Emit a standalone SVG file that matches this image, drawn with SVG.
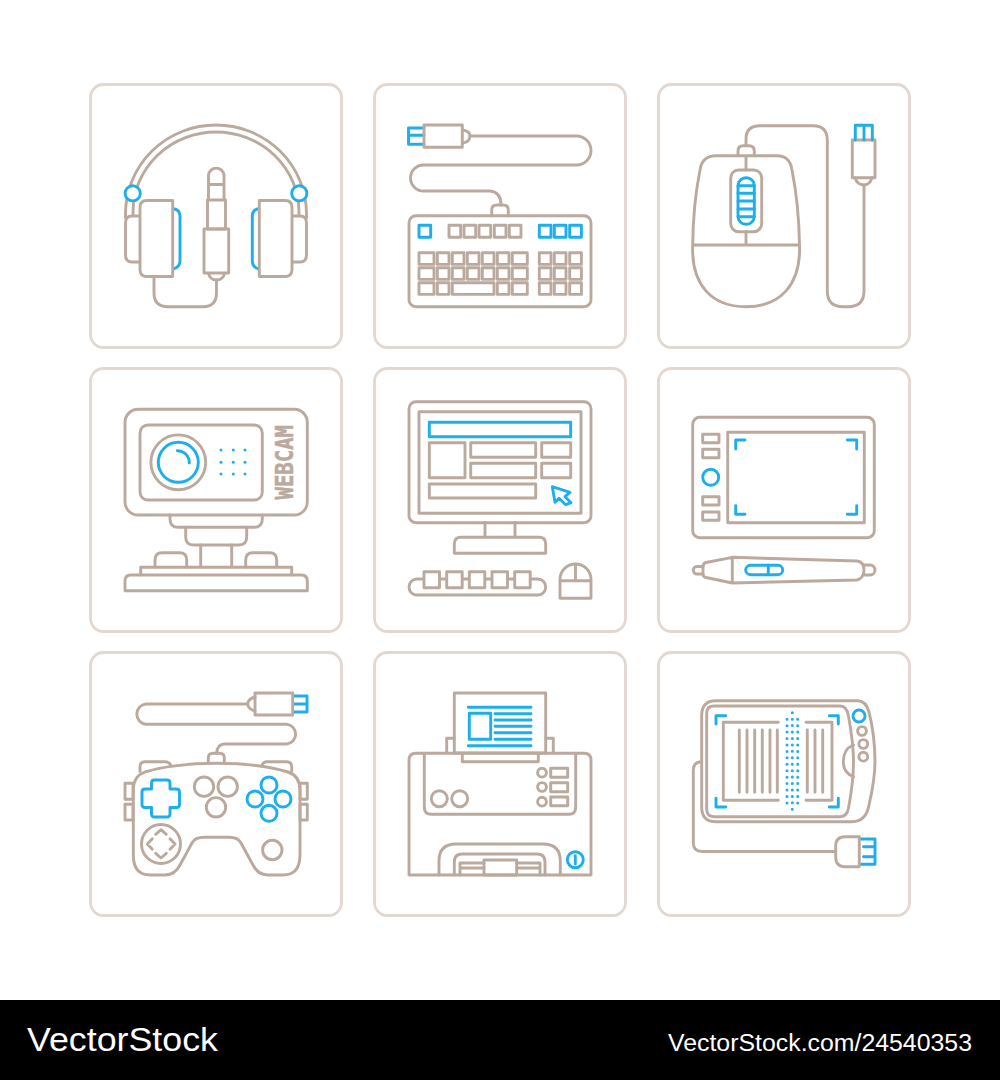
<svg xmlns="http://www.w3.org/2000/svg" width="1000" height="1080" viewBox="0 0 1000 1080">
<style>
.p{fill:#fff;stroke:#e3d8d0;stroke-width:2.8}
.g{fill:none;stroke:#bba99e;stroke-width:2.9;stroke-linejoin:round;stroke-linecap:round}
.b{fill:none;stroke:#1daeec;stroke-width:2.9;stroke-linejoin:round;stroke-linecap:round}
.f{fill:#fff}
.d{fill:none;stroke:#1daeec;stroke-width:3;stroke-linecap:round;stroke-dasharray:0 6.44}
.w{font-family:"Liberation Sans",Arial,sans-serif;fill:#fff}
</style>
<rect width="1000" height="1080" fill="#fff"/>
<g id="panels">
<rect class="p" x="90.5" y="84.5" width="251" height="263" rx="13"/>
<rect class="p" x="374.5" y="84.5" width="251" height="263" rx="13"/>
<rect class="p" x="658.5" y="84.5" width="251" height="263" rx="13"/>
<rect class="p" x="90.5" y="368.5" width="251" height="263" rx="13"/>
<rect class="p" x="374.5" y="368.5" width="251" height="263" rx="13"/>
<rect class="p" x="658.5" y="368.5" width="251" height="263" rx="13"/>
<rect class="p" x="90.5" y="652.5" width="251" height="263" rx="13"/>
<rect class="p" x="374.5" y="652.5" width="251" height="263" rx="13"/>
<rect class="p" x="658.5" y="652.5" width="251" height="263" rx="13"/>
</g>
<g id="headphones">
<path class="g" d="M125.5,218 V214 A90.5,89 0 0 1 306.5,214 V218"/>
<path class="g" d="M133,216 V212 A83,80 0 0 1 299,212 V216"/>
<path class="g f" d="M140,216 H132 Q125.5,216 125.5,223 V255 Q125.5,262 132,262 H140"/>
<path class="g f" d="M292,216 H300 Q306.5,216 306.5,223 V255 Q306.5,262 300,262 H292"/>
<path class="b" d="M172.7,208.5 Q180,209.5 180,216 V261 Q180,267.500 172.700,269"/>
<path class="b" d="M259.300,208.500 Q252.300,209.500 252.300,216 V261 Q252.300,267.500 259.300,269"/>
<path class="g f" d="M172.700,200.500 H147 Q140,200.500 140,207.500 V269.500 Q140,276.500 147,276.500 H172.700 Z"/>
<path class="g f" d="M259.300,200.500 H285 Q292,200.500 292,207.500 V269.500 Q292,276.500 285,276.500 H259.300 Z"/>
<circle class="b f" cx="132.700" cy="193.300" r="7.600"/>
<circle class="b f" cx="299.300" cy="193.300" r="7.600"/>
<path class="g" d="M208.500,200 V175 A7.800,7.800 0 0 1 224,175 V200 M208.500,184.500 H224"/>
<rect class="g" x="207.500" y="200" width="18" height="29"/>
<rect class="g" x="204" y="229" width="24.700" height="44"/>
<path class="g" d="M208.500,273.500 Q210,280 216.500,280 Q223,280 224.500,273.500"/>
<path class="g" d="M216.500,280 V293 Q216.500,306.700 203,306.700 H168 Q154,306.700 154,293 V277"/>
</g>
<g id="keyboard">
<path class="g" d="M470,136 H576.500 A14.500,14.500 0 0 1 576.500,165 H423.500 A13,13 0 0 0 423.500,191 H490 Q501,192 501,205"/>
<path class="b" d="M424,128 H408.500 V144.200 H424 M408.500,135.200 H424"/>
<path class="g" d="M462.300,130 Q470,131 470,136 Q470,142 462.300,143"/>
<rect class="g" x="424" y="125" width="38.300" height="22.300"/>
<path class="g" d="M491.700,215.700 V210 Q491.700,205 497,205 H503 Q508.300,205 508.300,210 V215.700"/>
<rect class="g" x="409" y="215.700" width="182" height="91" rx="7"/>
<g class="b"><rect x="419" y="225.300" width="11.700" height="12"/><rect x="539.300" y="225.300" width="11.700" height="12"/><rect x="554.300" y="225.300" width="11.700" height="12"/><rect x="569.700" y="225.300" width="11.700" height="12"/></g>
<g class="g">
<rect x="449" y="225.300" width="11.700" height="12"/><rect x="464" y="225.300" width="11.700" height="12"/><rect x="479" y="225.300" width="11.700" height="12"/><rect x="494.300" y="225.300" width="11.700" height="12"/><rect x="509.300" y="225.300" width="11.700" height="12"/>
<rect x="419" y="252.700" width="15" height="11.700"/><rect x="437.300" y="252.700" width="11.700" height="11.700"/><rect x="452.300" y="252.700" width="11.700" height="11.700"/><rect x="467.300" y="252.700" width="11.700" height="11.700"/><rect x="482.300" y="252.700" width="11.700" height="11.700"/><rect x="497.300" y="252.700" width="11.700" height="11.700"/><rect x="512.300" y="252.700" width="15" height="11.700"/>
<rect x="419" y="267.700" width="15" height="11.700"/><rect x="437.300" y="267.700" width="11.700" height="11.700"/><rect x="452.300" y="267.700" width="11.700" height="11.700"/><rect x="467.300" y="267.700" width="11.700" height="11.700"/><rect x="482.300" y="267.700" width="11.700" height="11.700"/><rect x="497.300" y="267.700" width="11.700" height="11.700"/><rect x="512.300" y="267.700" width="15" height="11.700"/>
<rect x="419" y="282.700" width="15" height="11.700"/><rect x="437.300" y="282.700" width="11.700" height="11.700"/><rect x="452.300" y="282.700" width="41.700" height="11.700"/><rect x="497.300" y="282.700" width="11.700" height="11.700"/><rect x="512.300" y="282.700" width="15" height="11.700"/>
<rect x="539.300" y="252.700" width="11.700" height="11.700"/><rect x="554.300" y="252.700" width="11.700" height="11.700"/><rect x="569.700" y="252.700" width="11.700" height="11.700"/>
<rect x="539.300" y="267.700" width="11.700" height="11.700"/><rect x="554.300" y="267.700" width="11.700" height="11.700"/><rect x="569.700" y="267.700" width="11.700" height="11.700"/>
<rect x="539.300" y="282.700" width="11.700" height="11.700"/><rect x="554.300" y="282.700" width="11.700" height="11.700"/><rect x="569.700" y="282.700" width="11.700" height="11.700"/>
</g>
</g>
<g id="mouse">
<path class="g" d="M746,145.700 V139 Q746,125.700 760,125.700 H813 Q827.300,125.700 827.300,140 V291 Q827.300,306.700 843,306.700 H848 Q864,306.700 864,291 V185"/>
<path class="g" d="M738,155.700 V151 Q738,145.700 743,145.700 H749 Q754.300,145.700 754.300,151 V155.700"/>
<path class="g" d="M716,155.700 H777 Q790,155.700 792,170 C796,190 799,215 799.500,245 C801,285 780,306.700 746,306.700 C712,306.700 691,285 692.700,245 C693,215 696,190 700,170 Q702,155.700 716,155.700 Z M692.700,245 H799.500 M746,155.700 V170 M746,231.700 V245"/>
<rect class="g" x="730.700" y="170" width="31" height="61.700" rx="8"/>
<rect class="b" x="738" y="177.700" width="16.300" height="46.600" rx="8"/>
<path class="b" d="M738,185.700 H754.300 M738,193.300 H754.300 M738,201 H754.300 M738,209 H754.300 M738,216.700 H754.300"/>
<path class="g" d="M855,177.700 Q857,185 864,185 Q870,185 872,177.700"/>
<rect class="g" x="852.300" y="140" width="22.700" height="37.700"/>
<path class="b" d="M855.300,140 V125.300 H872.300 V140 M864,125.300 V140"/>
</g>
<g id="webcam">
<path class="g" d="M170,515 V519 Q170,527.300 178,527.300 H254 Q262.300,527.300 262.300,519 V515"/>
<path class="g" d="M185.700,527.300 V537 Q185.700,545 193.700,545 H238.700 Q246.700,545 246.700,537 V527.300"/>
<path class="g" d="M200.700,545 V567 M231.700,545 V567"/>
<path class="g" d="M155,567.300 V560 Q155,552.700 162,552.700 H179.700 Q186.700,552.700 186.700,560 V567.300"/>
<path class="g" d="M245.700,567.300 V560 Q245.700,552.700 252.700,552.700 H269.700 Q276.700,552.700 276.700,560 V567.300"/>
<rect class="g" x="125" y="409.300" width="182.300" height="105.700" rx="13"/>
<rect class="g" x="140" y="425" width="122.300" height="75" rx="8"/>
<circle class="g" cx="178.300" cy="462.300" r="27.400"/>
<circle class="b" cx="178.300" cy="462.300" r="20"/>
<path class="b" d="M177.300,450.700 A12,12 0 0 1 189.300,463"/>
<g fill="#1daeec"><circle cx="221" cy="450" r="1.500"/><circle cx="233.300" cy="450" r="1.500"/><circle cx="245" cy="450" r="1.500"/><circle cx="221" cy="462.300" r="1.500"/><circle cx="233.300" cy="462.300" r="1.500"/><circle cx="245" cy="462.300" r="1.500"/><circle cx="221" cy="474" r="1.500"/><circle cx="233.300" cy="474" r="1.500"/><circle cx="245" cy="474" r="1.500"/></g>
<text transform="translate(293.300,499.500) rotate(-90)" x="0" y="0" font-family="'DejaVu Sans Mono',monospace" font-weight="700" font-size="25" fill="#bba99e" stroke="#bba99e" stroke-width="0.5" textLength="74.500" lengthAdjust="spacingAndGlyphs">WEBCAM</text>
<path class="g" d="M140.700,575 V567.300 H291.700 V575"/>
<path class="g" d="M125,590.700 V581 Q125,575 131,575 H301.300 Q307.300,575 307.300,581 V590.700 Z"/>
</g>
<g id="monitor">
<path class="g" d="M485,522.700 V537 M515,522.700 V537"/>
<rect class="g" x="409" y="401.700" width="182" height="121" rx="7"/>
<rect class="g" x="419" y="411.700" width="162" height="101.600"/>
<rect class="b" x="429.300" y="422.300" width="141.400" height="14.400"/>
<g class="g">
<rect x="429.300" y="442.700" width="35.700" height="35"/>
<rect x="470.700" y="442.700" width="65" height="14.600"/>
<rect x="470.700" y="463.300" width="65" height="14.400"/>
<rect x="541.700" y="442.700" width="29" height="14.600"/>
<rect x="541.700" y="463.300" width="29" height="14.400"/>
<rect x="429.300" y="484" width="106.400" height="14"/>
</g>
<path class="b" d="M552.300,486.700 L570,492.300 L565,496.700 L571,502.700 L565.700,504.700 L559,498.300 L555,502.300 Z"/>
<path class="g" d="M454.300,553.300 V544 Q454.300,537.300 461,537.300 H539 Q545.700,537.300 545.700,544 V553.300 Z"/>
<rect class="g" x="409" y="579" width="136.700" height="16" rx="8"/>
<g class="g f"><rect x="424" y="571.700" width="15.500" height="16"/><rect x="446.700" y="571.700" width="15.500" height="16"/><rect x="469.300" y="571.700" width="15.500" height="16"/><rect x="492" y="571.700" width="15.500" height="16"/><rect x="514.700" y="571.700" width="15.500" height="16"/></g>
<path class="g" d="M560,598.300 V579.500 A15.500,15.500 0 0 1 591,579.500 V598.300 Z M560,580.700 H591 M575.500,564 V580.700"/>
</g>
<g id="tablet">
<rect class="g" x="692.700" y="417.300" width="181.600" height="120.400" rx="7"/>
<rect class="g" x="727.700" y="432.300" width="136.600" height="90.400"/>
<path class="b" d="M735.700,449 V440 H745 M847.300,440 H856.700 V449 M735.700,505.700 V514.300 H745 M847.300,514.300 H856.700 V505.700" stroke-linecap="butt"/>
<g class="g"><rect x="702.700" y="434.300" width="16.300" height="8.400"/><rect x="702.700" y="449.300" width="16.300" height="8.400"/><rect x="702.700" y="496.700" width="16.300" height="8.300"/><rect x="702.700" y="512" width="16.300" height="8.300"/></g>
<circle class="b" cx="710.700" cy="477.300" r="8"/>
<path class="g" d="M703,566.500 H697 A3.700,3.700 0 0 0 697,574 H703"/>
<path class="g" d="M864.500,565 H870 A5,5 0 0 1 870,575 H864.500"/>
<path class="g" d="M732.300,557.300 L857,561 Q864,562 864,570 Q864,578 857,580 L732.300,583 L706,577.500 Q703,577 703,574 V566.500 Q703,563.500 706,562.500 Z M732.300,557.300 V583"/>
<rect class="b" x="745.700" y="565.300" width="37" height="9.400" rx="4.700"/>
<path class="b" d="M768.300,565.300 V574.700"/>
</g>
<g id="gamepad">
<path class="g" d="M247.700,704 H146 A10.200,10.200 0 0 0 146,724.300 H286.700 A9.900,9.900 0 0 1 286.700,744 H224 Q217,744.500 216.700,753.300"/>
<path class="b" d="M293.300,696 H307 V712 H293.300 M293.300,704 H307"/>
<rect class="g" x="255" y="693" width="37.700" height="22"/>
<path class="g" d="M255,697 Q248,699 247.700,704 Q248,709 255,711"/>
<path class="g" d="M208.300,763.300 V758 Q208.300,753.300 213,753.300 H219.700 Q224.300,753.300 224.300,758 V763.300"/>
<path class="g" d="M140,771.500 V767 Q140,761.700 145,761.700 H165 Q169.500,761.700 171,766"/>
<path class="g" d="M261.700,766 Q263,761.700 267,761.700 H286.500 Q291.700,761.700 291.700,767 V771.500"/>
<path class="g" d="M125,783.300 H133 V799.300 H125 Z M125,804.300 H133 V820 H125 Z M300,783.300 H307.300 V799.300 H300 Z M300,804.300 H307.300 V820 H300 Z"/>
<path class="g" d="M216.700,763.300 C180,763.300 155,769 145,772 Q133.300,776 133.300,790 V855 Q133.300,875 150,875 H165 Q175,875 180,865 L192,843 Q195,837.300 204,837.300 H229 Q238,837.300 241,843 L253,865 Q258,875 268,875 H283 Q300,875 300,855 V790 Q300,776 288,772 C278,769 253,763.300 216.700,763.300 Z"/>
<path class="b" d="M151.500,783 Q151.500,780 154.500,780 H167 Q170,780 170,783 V789 H176.500 Q179.500,789 179.500,792 V804.500 Q179.500,807.500 176.500,807.500 H170 V814 Q170,817 167,817 H154.500 Q151.500,817 151.500,814 V807.500 H145 Q142,807.500 142,804.500 V792 Q142,789 145,789 H151.500 Z"/>
<g class="g"><circle cx="204" cy="786.700" r="9.700"/><circle cx="227.700" cy="786.700" r="9.700"/><circle cx="216" cy="807.300" r="9.700"/><circle cx="161" cy="844" r="19.500"/><circle cx="272.300" cy="850" r="9.700"/>
<path d="M155.700,834.300 L161,829.700 L166.300,834.300 M155.700,853.300 L161,858 L166.300,853.300 M152.300,838.700 L147.300,844 L152.300,849.300 M170,838.700 L175,844 L170,849.300"/></g>
<g class="b"><circle cx="269" cy="785" r="8"/><circle cx="255" cy="799" r="8"/><circle cx="283" cy="799" r="8"/><circle cx="269" cy="813.300" r="8"/></g>
</g>
<g id="printer">
<path class="g" d="M454.300,738.300 H446.700 V753 M545.700,738.300 H553.300 V753"/>
<rect class="g" x="454.300" y="693" width="91.400" height="60"/>
<path class="b" d="M468.300,707.300 H531 M468.300,745.700 H531 M495,713.700 H531 M495,720 H531 M495,726.300 H531 M495,732.700 H531 M495,739.300 H531"/>
<rect class="b" x="469.300" y="713.300" width="21.400" height="26"/>
<path class="g" d="M416,753.300 H584 Q591,753.300 591,760.300 V875 H409 V760.300 Q409,753.300 416,753.300 Z"/>
<path class="g" d="M424.300,753.300 V807 Q424.300,814.300 431.300,814.300 H568.700 Q575.700,814.300 575.700,807 V753.300"/>
<path class="g" d="M462.300,753.300 V761.700 H538.300 V753.300"/>
<g class="g"><circle cx="439.300" cy="798.700" r="8"/><circle cx="459.700" cy="798.700" r="8"/><circle cx="542" cy="772.700" r="4.400"/><circle cx="542" cy="787" r="4.400"/><circle cx="542" cy="801.700" r="4.400"/><rect x="550.700" y="768.300" width="17" height="9"/><rect x="550.700" y="782.700" width="17" height="9"/><rect x="550.700" y="797" width="17" height="8.700"/></g>
<path class="g" d="M439,875 V861 Q439,844 456,844 H543 Q560.300,844 560.300,861 V875"/>
<path class="g" d="M454.300,875 V862 Q454.300,854 462,854 H537 Q545,854 545,862 V875"/>
<path class="g" d="M484,863 H460 V875 M516.700,863 H540 V875 M460,868 H484 M516.700,868 H540"/>
<rect class="g" x="484" y="860" width="32.700" height="15"/>
<circle class="b" cx="575.300" cy="859.700" r="8"/>
<path class="b" d="M575.300,855.700 V864"/>
</g>
<g id="ereader">
<path class="g" d="M701.700,761.700 Q693.300,762 693.300,770 V843 Q693.300,851.500 702,851.500 H835.700"/>
<path class="b" d="M859.300,839 H875 V864.300 H859.300 M863.500,846.700 H875 M863.500,856.700 H875"/>
<path class="g" d="M859.300,836.700 H845 Q835.700,836.700 835.700,846 V857 Q835.700,866.700 845,866.700 H859.300 Z"/>
<path class="g" d="M716,700.700 H858 Q866,701 869,712 C873,728 875,745 875,762 C875,778 872,792 869,805 Q866,821.700 852,821.700 H716 Q701.700,821.700 701.700,807.500 V715 Q701.700,700.700 716,700.700 Z"/>
<path class="g" d="M714,706 H840 Q847,706 848.500,716 C851,730 853.500,745 853.500,761 C853.500,778 851,795 848.500,808 Q847,816.700 840,816.700 H714 Q706.700,816.700 706.700,809 V713 Q706.700,706 714,706 Z"/>
<path class="g" d="M853.500,745 Q843.300,749 843.300,761.500 Q843.300,773 853.500,776.700"/>
<circle class="b" cx="859" cy="716" r="6"/>
<g class="g"><circle cx="862" cy="731" r="4.400"/><circle cx="863.300" cy="744" r="4.400"/><circle cx="863.300" cy="756.700" r="4.400"/></g>
<path class="b" d="M716,724 V715.700 H725.700 M829.300,715.700 H838.300 V724 M716,798.300 V807 H725.700 M829.300,807 H838.300 V798.300" stroke-linecap="butt"/>
<path class="g" d="M778.300,722.300 H723.300 V800.300 H778.300 M806,722.300 H832 V800.300 H806"/>
<path class="g" d="M739.300,730 V792.300 M747,730 V792.300 M754.700,730 V792.300 M762.300,730 V792.300 M770,730 V792.300 M777.300,730 V792.300 M807.300,730 V792.300 M815,730 V792.300 M822.700,730 V792.300"/>
<path class="d" d="M792.300,712.700 V809.500 M787,719.200 V803 M797.700,719.200 V803"/>
</g>
<g id="footer">
<rect x="0" y="1000" width="1000" height="80" fill="#000"/>
<text class="w" x="27" y="1051" font-size="34" textLength="191" lengthAdjust="spacingAndGlyphs">VectorStock</text>
<text class="w" x="668" y="1050.500" font-size="23" textLength="304" lengthAdjust="spacingAndGlyphs">VectorStock.com/24540353</text>
</g>
</svg>
